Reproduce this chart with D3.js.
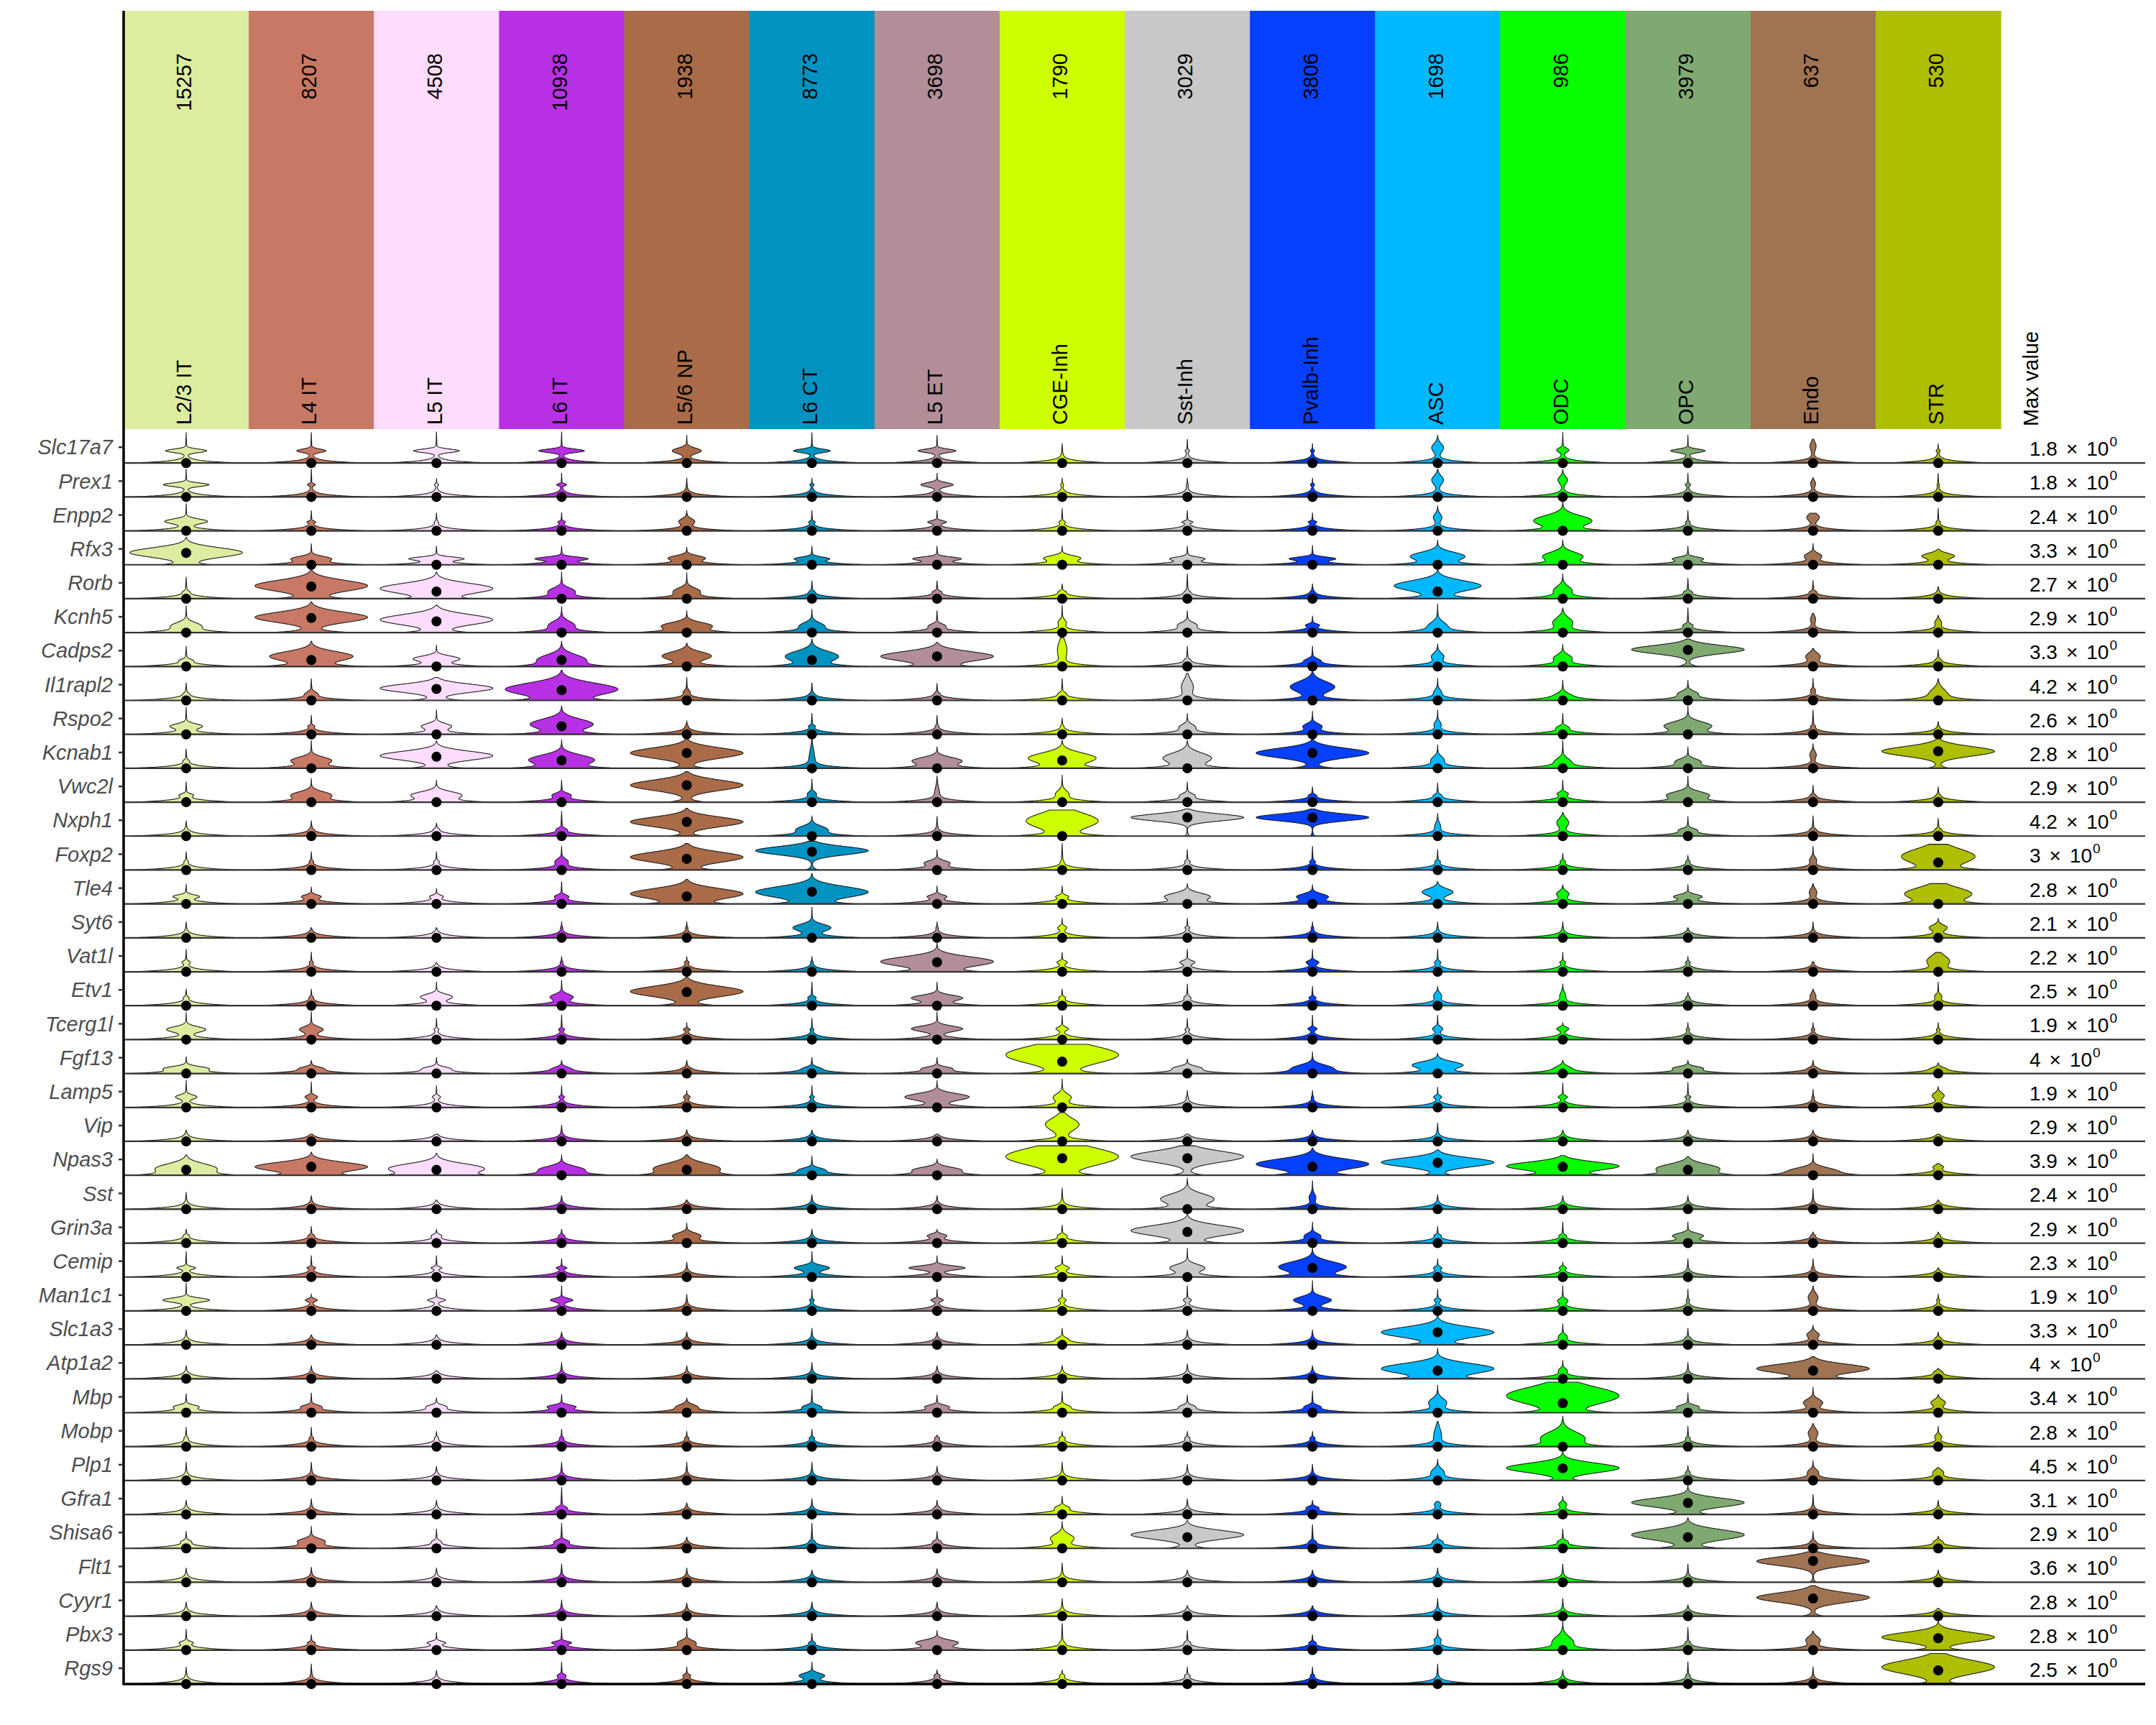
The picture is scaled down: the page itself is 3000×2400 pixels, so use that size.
<!DOCTYPE html>
<html><head><meta charset="utf-8">
<script src="https://cdn.jsdelivr.net/npm/d3@7"></script>
<style>body{margin:0;background:#fff} svg{display:block}</style>
</head><body><svg id="chart" width="3000" height="2400"></svg>
<script>
const genes = ["Slc17a7","Prex1","Enpp2","Rfx3","Rorb","Kcnh5","Cadps2","Il1rapl2","Rspo2","Kcnab1","Vwc2l","Nxph1","Foxp2","Tle4","Syt6","Vat1l","Etv1","Tcerg1l","Fgf13","Lamp5","Vip","Npas3","Sst","Grin3a","Cemip","Man1c1","Slc1a3","Atp1a2","Mbp","Mobp","Plp1","Gfra1","Shisa6","Flt1","Cyyr1","Pbx3","Rgs9"];
const cellTypes = ["L2/3 IT","L4 IT","L5 IT","L6 IT","L5/6 NP","L6 CT","L5 ET","CGE-Inh","Sst-Inh","Pvalb-Inh","ASC","ODC","OPC","Endo","STR"];
const cellCounts = [15257,8207,4508,10938,1938,8773,3698,1790,3029,3806,1698,986,3979,637,530];
const cellColors = ["#DCEDA1","#C77965","#FDDCFD","#B730E4","#AA6B48","#0093C2","#B18E98","#CDFF00","#C8C8C8","#0640FF","#00B8FF","#08FF00","#80A972","#A07353","#AEBE00"];
const maxValues = [1.8,1.8,2.4,3.3,2.7,2.9,3.3,4.2,2.6,2.8,2.9,4.2,3,2.8,2.1,2.2,2.5,1.9,4,1.9,2.9,3.9,2.4,2.9,2.3,1.9,3.3,4,3.4,2.8,4.5,3.1,2.9,3.6,2.8,2.8,2.5];

// per gene (row) x cell type (column); heights are fractions of the row's value range
const medians = [
[0,0,0,0,0,0,0,0,0,0,0,0,0,0,0],
[0,0,0,0,0,0,0,0,0,0,0,0,0,0,0],
[0,0,0,0,0,0,0,0,0,0,0,0,0,0,0],
[.35,0,0,0,0,0,0,0,0,0,0,0,0,0,0],
[0,.36,.21,0,0,0,0,0,0,0,.21,0,0,0,0],
[0,.43,.33,0,0,0,0,0,0,0,0,0,0,0,0],
[0,.19,0,.19,0,.19,.3,0,0,0,0,0,.49,0,0],
[0,0,.34,.3,0,0,0,0,0,0,0,0,0,0,0],
[0,0,0,.24,0,0,0,0,0,0,0,0,0,0,0],
[0,0,.34,.23,.45,0,0,.23,0,.45,0,0,0,0,.5],
[0,0,0,0,.5,0,0,0,0,0,0,0,0,0,0],
[0,0,0,0,.42,0,0,0,.55,.54,0,0,0,0,0],
[0,0,0,0,.33,.54,0,0,0,0,0,0,0,0,.22],
[0,0,0,0,.22,.36,0,0,0,0,0,0,0,0,0],
[0,0,0,0,0,0,0,0,0,0,0,0,0,0,0],
[0,0,0,0,0,0,.28,0,0,0,0,0,0,0,0],
[0,0,0,0,.4,0,0,0,0,0,0,0,0,0,0],
[0,0,0,0,0,0,0,0,0,0,0,0,0,0,0],
[0,0,0,0,0,0,0,.35,0,0,0,0,0,0,0],
[0,0,0,0,0,0,0,0,0,0,0,0,0,0,0],
[0,0,0,0,0,0,0,0,0,0,0,0,0,0,0],
[.16,.25,.16,0,.16,0,0,.5,.5,.25,.37,.25,.16,0,0],
[0,0,0,0,0,0,0,0,0,0,0,0,0,0,0],
[0,0,0,0,0,0,0,0,.33,0,0,0,0,0,0],
[0,0,0,0,0,0,0,0,0,.27,0,0,0,0,0],
[0,0,0,0,0,0,0,0,0,0,0,0,0,0,0],
[0,0,0,0,0,0,0,0,0,0,.37,0,0,0,0],
[0,0,0,0,0,0,0,0,0,0,.24,0,0,.24,0],
[0,0,0,0,0,0,0,0,0,0,0,.28,0,0,0],
[0,0,0,0,0,0,0,0,0,0,0,0,0,0,0],
[0,0,0,0,0,0,0,0,0,0,0,.36,0,0,0],
[0,0,0,0,0,0,0,0,0,0,0,0,.34,0,0],
[0,0,0,0,0,0,0,0,.33,0,0,0,.33,0,0],
[0,0,0,0,0,0,0,0,0,0,0,0,0,.63,0],
[0,0,0,0,0,0,0,0,0,0,0,0,0,.52,0],
[0,0,0,0,0,0,0,0,0,0,0,0,0,0,.35],
[0,0,0,0,0,0,0,0,0,0,0,0,0,0,.4]
];
// peak density of the expressed body relative to the zero-count density
const bodyWidths = [
[.36,.25,.4,.4,.25,.32,.33,0,.03,.03,.1,.1,.3,.05,.03],
[.4,.06,.03,.08,0,.03,.28,.02,.01,.03,.1,.08,.04,.04,.01],
[.37,.06,.02,.05,.13,.04,.15,.04,.08,.06,.07,.55,.02,.11,.02],
[2.5,.32,.45,.43,.3,.27,.39,.3,.27,.37,.5,.36,.23,.14,.28],
[.03,1.6,2,.22,.22,.02,.05,.04,.02,.01,.8,.15,.04,.03,0],
[.25,1.35,1.6,.22,.45,.2,.12,.06,.15,.1,.15,.17,.06,.04,.05],
[.08,.8,.4,.5,.44,.5,1.8,.08,.02,.1,.1,.15,5,.12,.02],
[.02,.08,2.2,1.3,.04,.01,.02,.04,.1,.4,.05,.1,.15,.03,.15],
[.27,.04,.25,.6,.01,.04,.01,.01,.12,.15,.05,.08,.43,.02,0],
[.03,.35,2,.65,2.8,.04,.44,.65,.45,2.4,.1,.12,.2,.05,5],
[.1,.35,.45,.14,2.8,.06,.03,.1,.1,.04,.04,.08,.37,.02,.01],
[0,.01,.02,.06,3.5,.26,0,.7,20,20,.04,.1,.12,.02,.02],
[.02,.02,.03,.1,2,8,.2,.01,.03,.03,.03,.03,.02,.05,.75],
[.21,.15,.1,.1,1.6,1.4,.15,.09,.4,.26,.27,.1,.23,.06,.7],
[0,0,0,.01,.01,.33,.01,.07,.03,.01,0,0,0,0,.15],
[.06,.02,0,.01,.03,.01,1.3,.08,.12,.1,.04,.04,.03,.01,.2],
[.03,.02,.27,.19,1.7,.05,.44,.04,.04,.04,.06,.04,.02,.04,.05],
[.34,.2,.03,.04,.05,.02,.45,.1,.03,.07,.08,.1,.02,.02,.02],
[.34,.15,.18,.1,.02,.1,.2,1.25,.2,.35,.45,.1,.21,.03,.07],
[.18,.1,.06,.04,.05,.03,.57,.15,.01,.01,.06,.07,.04,.01,.1],
[0,0,0,0,0,0,0,.3,0,0,0,0,0,0,0],
[.65,1.7,1.2,.4,.75,.18,.4,1.6,3,1.35,3.5,1.25,.65,.44,.08],
[0,0,0,0,0,0,0,0,.5,.05,0,0,0,0,0],
[.03,.03,.07,.03,.23,0,.15,.06,1.6,.12,.04,.04,.25,.02,.02],
[.15,.06,.08,.08,0,.3,.49,.11,.3,.65,.06,.05,0,.01,0],
[.41,.1,.15,.19,0,.03,.1,.06,.06,.33,.05,.08,.02,.08,.02],
[0,0,0,0,0,0,0,.06,0,0,1.6,.06,.02,.1,.02],
[0,0,0,0,0,0,0,0,0,0,1.4,.06,0,1.45,.05],
[.18,.14,.14,.21,.15,.12,.17,.1,.1,.1,.15,1.25,.15,.16,.12],
[.02,.02,.02,.02,.02,.03,.03,.04,.03,.03,.06,.45,.02,.08,.05],
[0,0,0,0,0,0,0,0,0,0,.1,3.7,.02,.08,.08],
[0,0,0,.06,0,0,.02,.1,0,.08,.05,.06,2.5,0,0],
[.06,.22,.05,.1,0,.02,.04,.2,2.5,.03,.06,.06,1.6,.02,.05],
[0,0,0,0,0,0,0,0,0,0,0,0,0,15,0],
[0,0,0,0,0,0,0,0,0,0,0,0,0,5,0],
[.1,.04,.14,.15,.14,.03,.36,.02,.03,.04,.05,.18,.02,.12,2.2],
[0,0,0,.06,.05,.21,.04,.03,.03,.02,0,0,.02,0,2.5]
];
const bodyLevels = [
[.36,.36,.36,.36,.36,.36,.36,.3,.36,.36,.45,.38,.36,.5,.36],
[.36,.36,.36,.36,.3,.36,.36,.36,.36,.36,.5,.5,.36,.4,.36],
[.28,.26,.26,.26,.28,.26,.26,.26,.26,.26,.4,.3,.26,.4,.26],
[.36,.18,.18,.18,.2,.18,.18,.2,.18,.18,.25,.25,.18,.26,.26],
[.2,.38,.3,.22,.22,.2,.2,.2,.2,.2,.38,.25,.2,.2,.2],
[.2,.45,.38,.22,.2,.2,.2,.3,.22,.22,.2,.3,.22,.4,.3],
[.18,.3,.23,.2,.31,.3,.3,.5,.2,.18,.3,.25,.5,.3,.2],
[.2,.2,.36,.33,.25,.2,.2,.2,.4,.4,.25,.15,.2,.3,.2],
[.24,.24,.24,.3,.24,.24,.24,.24,.22,.24,.3,.2,.25,.24,.24],
[.22,.23,.37,.25,.45,.3,.22,.3,.3,.45,.25,.2,.2,.4,.5],
[.21,.21,.21,.21,.5,.25,.3,.25,.2,.2,.2,.25,.21,.2,.2],
[.2,.2,.2,.2,.42,.2,.2,.45,.55,.55,.3,.4,.18,.2,.2],
[.25,.25,.25,.25,.38,.57,.21,.25,.25,.25,.25,.25,.25,.3,.4],
[.22,.22,.22,.22,.3,.35,.22,.22,.22,.22,.35,.3,.22,.35,.3],
[.3,.3,.3,.3,.3,.3,.3,.3,.3,.3,.3,.3,.3,.3,.3],
[.28,.28,.28,.28,.28,.28,.3,.28,.28,.28,.28,.28,.28,.28,.32],
[.24,.24,.26,.26,.42,.24,.23,.24,.24,.24,.3,.3,.24,.3,.28],
[.3,.3,.3,.3,.3,.3,.32,.32,.3,.32,.32,.32,.3,.3,.3],
[.15,.15,.15,.15,.15,.15,.15,.55,.16,.16,.25,.16,.16,.16,.15],
[.31,.31,.31,.31,.31,.31,.31,.3,.3,.3,.31,.31,.31,.3,.35],
[.2,.2,.2,.2,.2,.2,.2,.5,.2,.2,.2,.2,.2,.2,.2],
[.2,.25,.2,.17,.2,.16,.16,.55,.55,.33,.38,.27,.2,.13,.25],
[.2,.2,.2,.2,.2,.2,.2,.2,.3,.35,.2,.2,.2,.2,.2],
[.22,.22,.22,.22,.22,.22,.22,.22,.37,.22,.22,.22,.22,.22,.22],
[.27,.27,.27,.27,.27,.27,.27,.27,.27,.3,.27,.27,.27,.27,.27],
[.32,.32,.32,.32,.32,.32,.32,.32,.32,.32,.32,.3,.32,.4,.32],
[.2,.2,.2,.2,.2,.2,.2,.18,.2,.2,.37,.25,.2,.3,.2],
[.2,.2,.2,.2,.2,.2,.2,.2,.2,.2,.3,.25,.2,.3,.2],
[.18,.18,.18,.18,.18,.18,.18,.18,.18,.18,.3,.5,.18,.3,.3],
[.25,.25,.25,.25,.25,.25,.25,.25,.25,.25,.35,.25,.25,.4,.3],
[.25,.25,.25,.25,.25,.25,.25,.25,.25,.25,.25,.37,.25,.25,.25],
[.2,.2,.2,.2,.2,.2,.2,.2,.2,.2,.3,.3,.35,.2,.2],
[.2,.21,.2,.2,.2,.2,.2,.3,.4,.2,.2,.2,.4,.2,.2],
[.2,.2,.2,.2,.2,.2,.2,.2,.2,.2,.2,.2,.2,.62,.2],
[.2,.2,.2,.2,.2,.2,.2,.2,.2,.2,.2,.2,.2,.55,.2],
[.22,.22,.22,.22,.22,.22,.22,.22,.22,.22,.3,.25,.22,.3,.38],
[.25,.25,.25,.25,.25,.25,.25,.25,.25,.25,.25,.25,.25,.25,.5]
];
const bodySpreads = [
[.05,.05,.05,.05,.08,.05,.05,.04,.03,.03,.12,.06,.05,.12,.03],
[.05,.03,.03,.03,.04,.03,.06,.03,.03,.03,.12,.1,.03,.08,.03],
[.07,.03,.03,.03,.08,.03,.04,.03,.03,.03,.1,.15,.03,.1,.03],
[.14,.07,.05,.05,.07,.05,.05,.07,.05,.05,.12,.12,.05,.08,.08],
[.03,.16,.15,.1,.1,.03,.03,.03,.03,.03,.15,.12,.03,.03,.03],
[.1,.15,.15,.12,.1,.1,.06,.08,.08,.04,.12,.14,.04,.1,.08],
[.04,.14,.08,.15,.12,.15,.14,.25,.03,.06,.1,.1,.12,.1,.03],
[.03,.06,.12,.18,.06,.03,.03,.04,.2,.16,.08,.08,.08,.05,.15],
[.07,.03,.08,.15,.03,.03,.03,.03,.08,.08,.08,.05,.12,.03,.03],
[.03,.1,.13,.14,.15,.25,.1,.15,.15,.14,.1,.1,.08,.1,.14],
[.04,.1,.1,.06,.15,.06,.15,.1,.06,.03,.04,.05,.1,.03,.03],
[.03,.03,.03,.04,.14,.1,.03,.22,.1,.1,.1,.12,.05,.03,.03],
[.03,.03,.03,.08,.15,.12,.07,.03,.03,.03,.03,.03,.03,.08,.22],
[.05,.05,.04,.05,.15,.16,.05,.04,.1,.08,.1,.08,.06,.1,.18],
[.03,.03,.03,.03,.03,.1,.03,.05,.03,.03,.03,.03,.03,.03,.08],
[.04,.03,.03,.03,.03,.03,.14,.04,.05,.05,.04,.03,.03,.03,.15],
[.03,.03,.08,.08,.15,.04,.08,.03,.04,.03,.08,.1,.03,.08,.06],
[.08,.08,.03,.03,.03,.03,.08,.05,.03,.04,.06,.05,.03,.03,.03],
[.06,.05,.05,.05,.03,.05,.05,.25,.06,.1,.1,.07,.05,.03,.04],
[.06,.05,.04,.03,.04,.03,.1,.1,.03,.03,.04,.04,.03,.03,.08],
[.03,.03,.03,.03,.03,.03,.03,.18,.03,.03,.03,.03,.03,.03,.03],
[.14,.13,.14,.1,.15,.06,.08,.25,.16,.15,.13,.12,.13,.1,.05],
[.03,.03,.03,.03,.03,.03,.03,.03,.15,.1,.03,.03,.03,.03,.03],
[.03,.03,.04,.03,.08,.03,.05,.04,.15,.07,.03,.03,.07,.03,.03],
[.04,.03,.03,.03,.03,.07,.06,.05,.1,.15,.04,.04,.03,.03,.03],
[.06,.04,.04,.05,.03,.03,.04,.04,.04,.1,.04,.06,.03,.12,.03],
[.03,.03,.03,.03,.03,.03,.03,.04,.03,.03,.15,.06,.03,.08,.03],
[.03,.03,.03,.03,.03,.03,.03,.03,.03,.03,.15,.06,.03,.13,.04],
[.05,.05,.05,.05,.07,.05,.05,.05,.05,.05,.12,.25,.05,.1,.08],
[.03,.03,.03,.03,.03,.03,.03,.03,.03,.03,.2,.18,.03,.12,.06],
[.03,.03,.03,.03,.03,.03,.03,.03,.03,.03,.1,.14,.03,.08,.07],
[.03,.03,.03,.04,.03,.03,.03,.05,.03,.04,.06,.06,.13,.03,.03],
[.04,.08,.04,.05,.03,.03,.03,.12,.13,.03,.04,.04,.15,.03,.04],
[.03,.03,.03,.03,.03,.03,.03,.03,.03,.03,.03,.03,.03,.13,.03],
[.03,.03,.03,.03,.03,.03,.03,.03,.03,.03,.03,.03,.03,.14,.03],
[.04,.03,.04,.04,.07,.03,.08,.03,.03,.03,.06,.15,.03,.1,.14],
[.03,.03,.03,.04,.04,.07,.03,.03,.03,.03,.03,.03,.03,.03,.2]
];
const tailTops = [
[.9,.9,.92,.92,.82,.9,.82,.57,.7,.57,.82,.9,.82,.7,.57],
[.82,.82,.54,.7,.56,.56,.7,.56,.56,.56,.82,.82,.7,.56,.7],
[.8,.6,.53,.53,.6,.6,.6,.66,.6,.53,.74,.88,.6,.52,.66],
[.81,.62,.55,.55,.52,.55,.55,.55,.55,.57,.73,.73,.55,.63,.46],
[.64,.84,.78,.78,.76,.53,.53,.44,.73,.44,.85,.73,.6,.54,.36],
[.79,.9,.8,.77,.65,.69,.65,.8,.65,.49,.85,.73,.73,.57,.51],
[.6,.75,.63,.75,.69,.81,.71,.85,.6,.6,.67,.65,.81,.53,.5],
[.52,.64,.68,.89,.68,.52,.5,.64,.8,.84,.65,.6,.6,.65,.64],
[.8,.56,.72,.84,.4,.62,.56,.48,.62,.68,.72,.62,.84,.72,.38],
[.57,.82,.8,.84,.88,.88,.63,.82,.82,.88,.69,.82,.63,.72,.88],
[.6,.7,.65,.65,.9,.68,.78,.8,.6,.45,.57,.65,.77,.5,.45],
[.45,.45,.38,.73,.82,.6,.58,.77,.8,.8,.68,.7,.57,.6,.53],
[.54,.54,.54,.7,.78,.85,.6,.78,.6,.7,.6,.49,.43,.7,.76],
[.58,.5,.45,.66,.72,.9,.53,.53,.6,.57,.66,.57,.57,.6,.6],
[.47,.3,.3,.47,.47,.9,.47,.58,.58,.47,.47,.47,.3,.47,.58],
[.66,.58,.27,.45,.45,.45,.85,.57,.66,.66,.66,.57,.45,.29,.57],
[.49,.49,.7,.75,.85,.7,.7,.49,.64,.57,.57,.64,.39,.49,.7],
[.8,.82,.63,.73,.5,.63,.82,.72,.63,.72,.72,.5,.5,.5,.5],
[.5,.39,.47,.39,.39,.47,.47,.86,.43,.64,.6,.39,.39,.39,.31],
[.8,.75,.64,.64,.5,.64,.8,.84,.5,.5,.6,.72,.74,.53,.62],
[.33,.21,.21,.48,.34,.33,.21,.85,.21,.33,.54,.33,.33,.33,.21],
[.6,.68,.65,.6,.6,.57,.48,.87,.87,.8,.75,.58,.55,.64,.34],
[.5,.4,.27,.4,.27,.43,.4,.62,.92,.84,.43,.4,.4,.6,.27],
[.41,.49,.41,.41,.59,.41,.41,.53,.84,.62,.49,.62,.62,.33,.33],
[.75,.63,.63,.54,.44,.75,.63,.63,.85,.85,.54,.44,.54,.54,.27],
[.82,.5,.64,.74,.49,.64,.64,.64,.74,.89,.64,.74,.64,.74,.5],
[.44,.29,.29,.38,.38,.49,.38,.49,.44,.44,.85,.62,.49,.58,.38],
[.38,.38,.24,.48,.38,.48,.38,.39,.44,.38,.9,.54,.48,.65,.31],
[.56,.58,.44,.54,.44,.69,.52,.63,.52,.64,.81,.9,.58,.75,.54],
[.57,.57,.45,.51,.45,.51,.34,.45,.45,.45,.74,.9,.6,.68,.6],
[.54,.54,.42,.54,.54,.54,.42,.54,.48,.48,.63,.84,.44,.59,.38],
[.42,.46,.42,.8,.34,.46,.42,.54,.46,.42,.38,.54,.84,.59,.42],
[.5,.65,.57,.74,.33,.74,.5,.8,.82,.7,.43,.57,.9,.5,.36],
[.42,.44,.42,.54,.42,.36,.4,.57,.36,.36,.42,.54,.54,.9,.36],
[.42,.42,.31,.48,.39,.42,.42,.52,.31,.31,.52,.52,.33,.9,.23],
[.62,.45,.52,.64,.64,.5,.58,.79,.58,.45,.62,.87,.67,.56,.85],
[.5,.59,.4,.65,.5,.65,.42,.42,.5,.5,.59,.42,.65,.5,.9]
];

const svg = d3.select('#chart');
const FONT = "'Liberation Sans', Arial, sans-serif";
const plotLeft = 172, plotRight = 2784, headerTop = 15, headerBottom = 597, plotBottom = 2343, lineRight = 2985;

const x = d3.scaleBand().domain(cellTypes).range([plotLeft, plotRight]).padding(0);
const rows = d3.scaleBand().domain(genes).range([headerBottom, plotBottom]).padding(0);
const halfWidth = d3.scaleLinear().domain([0, 1]).range([0, x.bandwidth() * 0.45]);
const cx = c => x(c) + x.bandwidth() / 2;

svg.append('rect').attr('width', 3000).attr('height', 2400).attr('fill', '#fff');

// header strips
const header = svg.append('g');
header.selectAll('rect').data(cellTypes).join('rect')
  .attr('x', d => x(d)).attr('y', headerTop)
  .attr('width', x.bandwidth() + 0.6).attr('height', headerBottom - headerTop)
  .attr('fill', (d, i) => cellColors[i]);
header.selectAll('text.count').data(cellTypes).join('text').attr('class', 'count')
  .attr('transform', d => `translate(${cx(d)},74) rotate(-90)`)
  .attr('dy', '0.25em').attr('text-anchor', 'end')
  .attr('font-family', FONT).attr('font-size', 29).attr('fill', '#000')
  .text((d, i) => cellCounts[i]);
header.selectAll('text.name').data(cellTypes).join('text').attr('class', 'name')
  .attr('transform', d => `translate(${cx(d)},591) rotate(-90)`)
  .attr('dy', '0.25em').attr('text-anchor', 'start')
  .attr('font-family', FONT).attr('font-size', 29).attr('fill', '#000')
  .text(d => d);
svg.append('text')
  .attr('transform', `translate(2829,593) rotate(-90)`)
  .attr('dy', '0.25em').attr('text-anchor', 'start')
  .attr('font-family', FONT).attr('font-size', 29).attr('fill', '#000')
  .text('Max value');

// violins
const vg = svg.append('g');
genes.forEach((g, gi) => {
  const base = rows(g) + rows.bandwidth();
  const yS = d3.scaleLinear().domain([0, 1]).range([base, rows(g)]);
  cellTypes.forEach((c, ci) => {
    const w = bodyWidths[gi][ci], mu = bodyLevels[gi][ci], sd = bodySpreads[gi][ci], top = tailTops[gi][ci];
    const n = 220;
    const pts = d3.range(n + 1).map(i => {
      const y = top * i / n;
      const f = Math.exp(-y / 0.055) + w * Math.exp(-((y - mu) ** 2) / (2 * sd * sd)) + 0.018 * (1 - y / top);
      return { y, f };
    });
    const fmax = d3.max(pts, p => p.f);
    const xc = cx(c);
    const area = d3.area()
      .y(p => yS(p.y))
      .x0(p => xc - halfWidth(p.f / fmax))
      .x1(p => xc + halfWidth(p.f / fmax));
    vg.append('path').attr('d', area(pts))
      .attr('fill', cellColors[ci]).attr('stroke', '#1a1a1a').attr('stroke-width', 1.1).attr('stroke-linejoin', 'round');
  });
});

// row baselines
const lg = svg.append('g');
genes.forEach((g, gi) => {
  const base = rows(g) + rows.bandwidth();
  const last = gi === genes.length - 1;
  lg.append('line').attr('x1', plotLeft).attr('x2', lineRight).attr('y1', base).attr('y2', base)
    .attr('stroke', last ? '#000' : '#333').attr('stroke-width', last ? 3.5 : 2.2);
});

// medians
const dg = svg.append('g');
genes.forEach((g, gi) => {
  const base = rows(g) + rows.bandwidth();
  const yS = d3.scaleLinear().domain([0, 1]).range([base, rows(g)]);
  cellTypes.forEach((c, ci) => {
    dg.append('circle').attr('cx', cx(c)).attr('cy', yS(medians[gi][ci])).attr('r', 7).attr('fill', '#000');
  });
});

// y axis
svg.append('line').attr('x1', plotLeft).attr('x2', plotLeft).attr('y1', headerTop).attr('y2', plotBottom + 1.5)
  .attr('stroke', '#000').attr('stroke-width', 3.5);
const ag = svg.append('g');
genes.forEach((g) => {
  const ty = rows(g) + rows.bandwidth() - 22;
  ag.append('line').attr('x1', 165).attr('x2', plotLeft).attr('y1', ty).attr('y2', ty)
    .attr('stroke', '#333').attr('stroke-width', 2.5);
  ag.append('text').attr('x', 157).attr('y', ty).attr('dy', '0.35em')
    .attr('text-anchor', 'end').attr('font-family', FONT).attr('font-style', 'italic')
    .attr('font-size', 29).attr('fill', '#4D4D4D').text(g);
});

// max value labels
const mg = svg.append('g');
genes.forEach((g, gi) => {
  const base = rows(g) + rows.bandwidth();
  const t = mg.append('text').attr('x', 2824).attr('y', base - 10)
    .attr('font-family', FONT).attr('font-size', 28).attr('fill', '#000');
  t.append('tspan').text(String(maxValues[gi]));
  t.append('tspan').attr('dx', 12).text('×');
  t.append('tspan').attr('dx', 12).text('10');
  t.append('tspan').attr('dx', 1).attr('dy', -13).attr('font-size', 19).text('0');
});
</script>
</body></html>
